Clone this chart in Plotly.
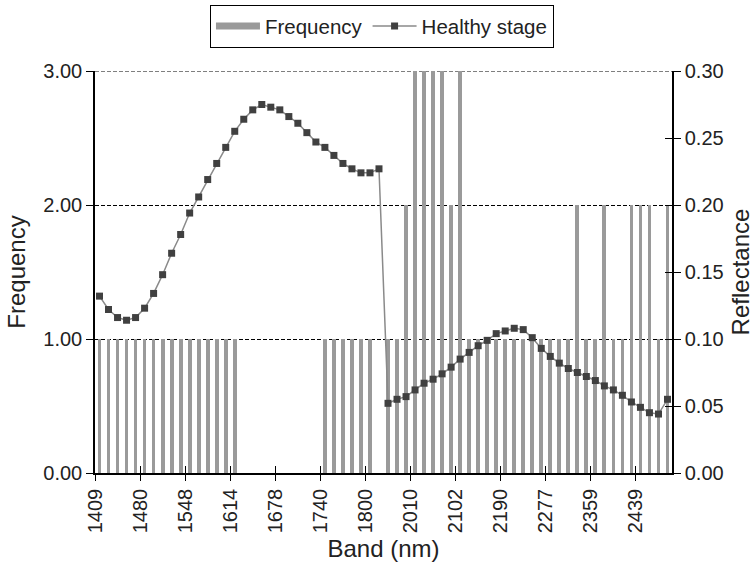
import plotly.graph_objects as go

# ---- data ----
band_index = list(range(64))
tick_positions = list(range(0, 61, 5))
tick_labels = ["1409", "1480", "1548", "1614", "1678", "1740", "1800",
               "2010", "2102", "2190", "2277", "2359", "2439"]

frequency = [1, 1, 1, 1, 1, 1, 1, 1, 1, 1, 1, 1, 1, 1, 1, 1,
             0, 0, 0, 0, 0, 0, 0, 0, 0, 1, 1, 1, 1, 1, 1, 0,
             1, 1, 2, 3, 3, 3, 3, 2, 3, 1, 1, 1, 1, 1, 1, 1,
             1, 1, 1, 1, 1, 2, 1, 1, 2, 1, 1, 2, 2, 2, 1, 2]

reflectance = [0.132, 0.122, 0.116, 0.114, 0.116, 0.123, 0.134, 0.148,
               0.164, 0.178, 0.194, 0.206, 0.219, 0.231, 0.243, 0.255,
               0.264, 0.271, 0.275, 0.273, 0.271, 0.266, 0.261, 0.254,
               0.247, 0.243, 0.237, 0.231, 0.227, 0.224, 0.224, 0.227,
               0.052, 0.055, 0.057, 0.062, 0.067, 0.070, 0.074, 0.079,
               0.085, 0.090, 0.095, 0.099, 0.104, 0.106, 0.108, 0.107,
               0.101, 0.093, 0.087, 0.082, 0.078, 0.075, 0.072, 0.069,
               0.065, 0.062, 0.058, 0.053, 0.049, 0.045, 0.044, 0.055]

freq_ticks = [0, 1, 2, 3]
ref_ticks = [0, 0.05, 0.10, 0.15, 0.20, 0.25, 0.30]

FONT = "Liberation Sans, Arial, sans-serif"
TXT = "#222222"
BAR = "#9a9a9a"
GRID_DASH = "4px,2px"

tickvals = [p - 0.5 for p in tick_positions]
xrange_ = [-0.5, len(band_index) - 0.5]

fig = go.Figure()

fig.add_trace(go.Bar(x=band_index, y=frequency, width=0.42,
                     marker=dict(color=BAR, line=dict(width=0)),
                     name="Frequency", showlegend=False))
# legend sample for the bars (wide flat bar)
fig.add_trace(go.Scatter(x=[None], y=[None], mode="lines",
                         line=dict(color=BAR, width=7),
                         name="Frequency", showlegend=True))
fig.add_trace(go.Scatter(x=band_index, y=reflectance, yaxis="y2",
                         mode="lines+markers", name="Healthy stage",
                         line=dict(color="#8a8a8a", width=1.5),
                         marker=dict(symbol="square", size=7, color="#404040")))
# helper invisible trace for inward tick halves
fig.add_trace(go.Scatter(x=[None], y=[None], xaxis="x2", yaxis="y3",
                         showlegend=False, hoverinfo="skip"))

axis_common = dict(showgrid=False, zeroline=False, showline=True,
                   linecolor="black", linewidth=1.5, tickcolor="black",
                   tickwidth=1.2)

# dashed gridline at the top value (plotly skips gridlines at the range edge)
fig.add_shape(type="line", xref="paper", x0=0, x1=1, yref="y",
              y0=freq_ticks[-1], y1=freq_ticks[-1], layer="below",
              line=dict(color="black", width=1, dash=GRID_DASH))

fig.update_layout(
    width=754, height=567,
    margin=dict(l=95, r=82, t=71, b=94, autoexpand=False),
    paper_bgcolor="white", plot_bgcolor="white",
    font=dict(family=FONT, size=20, color=TXT),
    bargap=0,
    xaxis=dict(range=xrange_, tickmode="array", tickvals=tickvals,
               ticktext=tick_labels, tickangle=-90, ticks="outside",
               ticklen=6, title=dict(text="Band (nm)", standoff=8),
               **axis_common),
    xaxis2=dict(range=xrange_, overlaying="x", anchor="y", side="bottom",
                tickmode="array", tickvals=tickvals, ticks="inside",
                ticklen=7, showticklabels=False, showgrid=False,
                zeroline=False, showline=False, tickcolor="black",
                tickwidth=1.2),
    yaxis=dict(range=[0, 3], tickmode="array", tickvals=freq_ticks,
               tickformat=".2f", ticks="outside",
               ticklen=7, showgrid=True, gridcolor="black", gridwidth=1,
               griddash=GRID_DASH, zeroline=False, showline=True,
               linecolor="black", linewidth=1.5, tickcolor="black",
               tickwidth=1.2,
               title=dict(text="Frequency", standoff=11)),
    yaxis2=dict(range=[0, 0.30], tickmode="array", tickvals=ref_ticks,
                tickformat=".2f",
                overlaying="y", side="right", anchor="x", ticks="outside",
                ticklen=7, title=dict(text="Reflectance", standoff=21),
                **axis_common),
    yaxis3=dict(range=[0, 0.30], tickmode="array", tickvals=ref_ticks,
                overlaying="y", side="right",
                anchor="x", ticks="inside", ticklen=7,
                showticklabels=False, showgrid=False, zeroline=False,
                showline=False, tickcolor="black", tickwidth=1.2),
    legend=dict(orientation="h", x=0.497, xanchor="center", y=1.164,
                yanchor="top", bordercolor="black", borderwidth=1.2,
                bgcolor="white", font=dict(size=20.5, color=TXT),
                itemwidth=44, tracegroupgap=0),
)

fig.write_html("out.html")
